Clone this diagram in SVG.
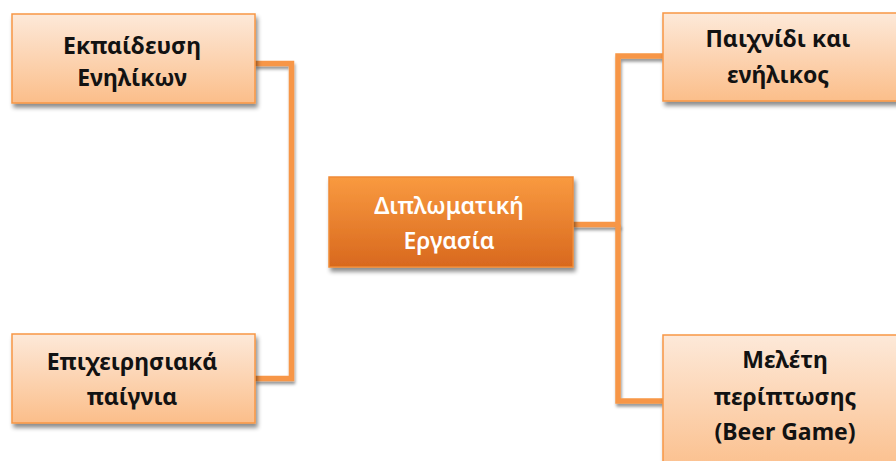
<svg xmlns="http://www.w3.org/2000/svg" width="896" height="461" viewBox="0 0 896 461">
  <defs>
    <linearGradient id="leafFill" x1="0" y1="0" x2="0" y2="1">
      <stop offset="0" stop-color="#FDE9D9"/>
      <stop offset="1" stop-color="#FBBE8A"/>
    </linearGradient>
    <linearGradient id="rootFill" x1="0" y1="0" x2="0" y2="1">
      <stop offset="0" stop-color="#F99A40"/>
      <stop offset="1" stop-color="#D8681E"/>
    </linearGradient>
    <filter id="shadow" x="-10%" y="-20%" width="125%" height="150%">
      <feDropShadow dx="2" dy="4" stdDeviation="2.2" flood-color="#000" flood-opacity="0.45"/>
    </filter>
    <filter id="lineShadow" x="-20%" y="-20%" width="140%" height="140%">
      <feDropShadow dx="1" dy="3" stdDeviation="1.6" flood-color="#000" flood-opacity="0.4"/>
    </filter>
  </defs>
  <style>
    .leaf { fill: url(#leafFill); stroke: #F79646; stroke-width: 1.5; filter: url(#shadow); }
    .root { fill: url(#rootFill); stroke: #F08A35; stroke-width: 1.5; filter: url(#shadow); }
    .wire { fill: none; stroke: #F79646; stroke-width: 5.5; stroke-linejoin: miter; filter: url(#lineShadow); }
    .label { font-family: "Noto Sans", "Open Sans", sans-serif; font-weight: 700; font-size: 23px; text-anchor: middle; fill: #121212; }
    .label.light { fill: #FFFFFF; font-weight: 600; }
  </style>
  <rect width="896" height="461" fill="#FFFFFF"/>

  <!-- connectors -->
  <g id="connectors">
    <path class="wire" d="M255 63.5 H291.5 V378.5 H255"/>
    <path class="wire" d="M291.5 214 H329"/>
    <path class="wire" d="M573 224.5 H618 V56 H663"/>
    <path class="wire" d="M618 224.5 V401 H663"/>
  </g>

  <!-- nodes -->
  <g id="node-adult-education">
    <rect class="leaf" x="12" y="14" width="243" height="89"/>
    <text class="label" x="132" y="54">Εκπαίδευση</text>
    <text class="label" x="132" y="86">Ενηλίκων</text>
  </g>

  <g id="node-business-games">
    <rect class="leaf" x="12" y="334" width="243" height="89"/>
    <text class="label" x="132" y="370">Επιχειρησιακά</text>
    <text class="label" x="132" y="405">παίγνια</text>
  </g>

  <g id="node-thesis">
    <rect class="root" x="329" y="177" width="244" height="90"/>
    <text class="label light" x="449" y="214">Διπλωματική</text>
    <text class="label light" x="449" y="249">Εργασία</text>
  </g>

  <g id="node-game-adult">
    <rect class="leaf" x="663" y="13" width="243" height="88"/>
    <text class="label" x="778" y="47">Παιχνίδι και</text>
    <text class="label" x="778" y="83">ενήλικος</text>
  </g>

  <g id="node-case-study">
    <rect class="leaf" x="663" y="335" width="243" height="140"/>
    <text class="label" x="785" y="368">Μελέτη</text>
    <text class="label" x="785" y="405">περίπτωσης</text>
    <text class="label" x="785" y="440">(Beer Game)</text>
  </g>
</svg>
